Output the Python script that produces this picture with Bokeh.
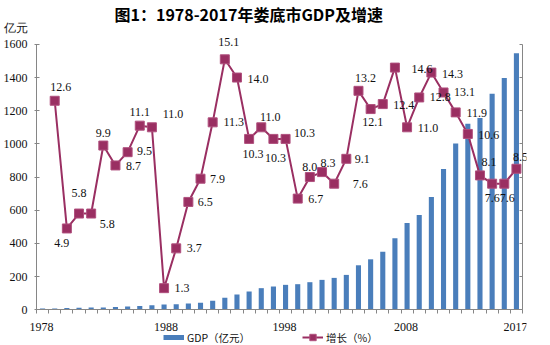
from bokeh.plotting import figure
from bokeh.models import (ColumnDataSource, Range1d, LinearAxis, FixedTicker, Legend,
                          LegendItem, LabelSet)
from bokeh.core.properties import value
from bokeh.embed import file_html
from bokeh.resources import INLINE

# ---------------- data ----------------
years = list(range(1978, 2018))
gdp = [7, 8, 11, 12, 13, 13, 17, 19, 23, 27, 32, 33, 37, 42,
       54, 72, 92, 110, 130, 140, 150, 154, 166, 180, 192, 210, 268, 304,
       349, 431, 523, 571, 679, 849, 1002, 1122, 1156, 1302, 1398, 1546]
growth_years = list(range(1979, 2018))
growth = [12.6, 4.9, 5.8, 5.8, 9.9, 8.7, 9.5, 11.1, 11.0, 1.3, 3.7, 6.5, 7.9,
          11.3, 15.1, 14.0, 10.3, 11.0, 10.3, 10.3, 6.7, 8.0, 8.3, 7.6, 9.1,
          13.2, 12.1, 12.4, 14.6, 11.0, 12.8, 14.3, 13.1, 11.9, 10.6, 8.1,
          7.6, 7.6, 8.5]
x_tick_labels = [1978, 1988, 1998, 2008, 2017]
left_ticks = [0, 200, 400, 600, 800, 1000, 1200, 1400, 1600]
right_ticks = [0, 2, 4, 6, 8, 10, 12, 14, 16]
title_text = "图1：1978-2017年娄底市GDP及增速"
left_unit = "亿元"
right_unit = "%"
legend_gdp = "GDP（亿元）"
legend_growth = "增长（%）"

# label placement (screen px, dx right, dy up) -- styling only
lab_dx = [6, -5, 0, 16, 0, 18, 17, 0, 21, 18, 18, 17, 17, 21, 4, 21, 4, 9, 2, 19,
          18, 0, 6, 26, 16, 7, 2, 21, 27, 21, 21, 21, 21, 21, 21, 9, 0, 3, 4]
lab_dy = [14, -15, 21, -10, 13, -1, 1, 14, 13, 0, 0, 0, 0, 0, 17, -1, -15, 10, -19, 6,
          0, 10, 9, 0, 0, 13, -13, -1, -1, -1, 0, -1, 0, -1, -1, 13, -14, -14, 12]
year_dx = [-1, 2, -1, -1, -1]

BLUE = "#4a7ebb"
MAROON = "#9a2f62"
AXIS = "#868686"
SERIF = "Liberation Serif"
CJK = "Noto Sans CJK SC"

W, H = 550, 345
AX_L, AX_R = 35, 522      # category axis span (px)
FL, FR = 28, 526          # frame left / right
FT, FB = 24, 345          # frame top / bottom (frame reaches the canvas bottom)
AX_TOP, AX_BOT = 42, 309  # where 1600 / 0 sit

X0, X1 = 1977.5, 2017.5
Y0, Y1 = 0, 1600
R0, R1 = 0, 16
UNIT_Y, UNIT_R = 1700, 17   # axis positions carrying the unit captions
xk = (X1 - X0) / (AX_R - AX_L)
yk = (Y1 - Y0) / (AX_BOT - AX_TOP)
rk = (R1 - R0) / (AX_BOT - AX_TOP)
x_range = Range1d(X0 - (AX_L - FL) * xk, X1 + (FR - AX_R) * xk)
y_range = Range1d(Y0 - (FB - AX_BOT) * yk, Y1 + (AX_TOP - FT) * yk)
r_range = Range1d(R0 - (FB - AX_BOT) * rk, R1 + (AX_TOP - FT) * rk)

p = figure(width=W, height=H, output_backend="svg", toolbar_location=None,
           x_range=x_range, y_range=y_range, x_axis_location="above",
           min_border_left=FL, min_border_right=W - FR,
           min_border_top=FT, min_border_bottom=0,
           title=title_text)
p.extra_y_ranges = {"right": r_range}
p.outline_line_color = None
p.xgrid.visible = False
p.ygrid.visible = False

p.title.align = "left"
p.title.offset = 113 - FL
p.title.standoff = 0
p.title.vertical_align = "middle"
p.title.text_font = CJK
p.title.text_font_size = "16px"
p.title.text_font_style = "bold"
p.title.text_color = "#000000"

# bars
bar_src = ColumnDataSource(dict(year=years, gdp=gdp))
bar_r = p.vbar(x="year", top="gdp", width=0.42, source=bar_src,
               fill_color=BLUE, line_color=None)

# growth line
line_src = ColumnDataSource(dict(year=growth_years, growth=growth,
                                 label=[f"{v:.1f}" for v in growth],
                                 dx=lab_dx, dy=lab_dy))
line_r = p.line(x="year", y="growth", source=line_src, y_range_name="right",
                line_color=MAROON, line_width=2)
mk_r = p.scatter(x="year", y="growth", source=line_src, y_range_name="right",
                 marker="square", size=9, fill_color=MAROON, line_color="#b0507e",
                 line_width=1)

labels = LabelSet(x="year", y="growth", text="label", source=line_src,
                  y_range_name="right", x_offset="dx", y_offset="dy",
                  text_font=value(SERIF), text_font_size="12px",
                  text_align="center", text_baseline="middle", text_color="#111111")
p.add_layout(labels)


def style_labels(ax):
    ax.major_label_text_font = SERIF
    ax.major_label_text_font_size = "12px"
    ax.major_label_text_color = "#111111"


def hide_labels(ax, ticks):
    ax.major_label_overrides = {t: "" for t in ticks}
    ax.major_label_text_font_size = "0px"
    ax.major_label_standoff = 0


# category axis: line + boundary ticks drawn at value 0
xaxis = p.xaxis[0]
xaxis.fixed_location = Y0
xaxis.bounds = (X0, X1)
xaxis.ticker = FixedTicker(ticks=x_tick_labels,
                           minor_ticks=[X0 + i for i in range(len(years) + 1)])
hide_labels(xaxis, x_tick_labels)
xaxis.major_tick_out = 0
xaxis.major_tick_in = 0
xaxis.minor_tick_out = 0
xaxis.minor_tick_in = 4
xaxis.axis_line_color = AXIS
xaxis.minor_tick_line_color = AXIS

# year labels under the category axis
year_src = ColumnDataSource(dict(x=x_tick_labels, y=[Y0] * len(x_tick_labels),
                                 t=[str(v) for v in x_tick_labels], dx=year_dx))
p.add_layout(LabelSet(x="x", y="y", text="t", source=year_src, y_offset=-17,
                      x_offset="dx",
                      text_font=value(SERIF), text_font_size="12px",
                      text_align="center", text_baseline="middle",
                      text_color="#111111"))

# left: labels axis (values + unit caption), no line / tick marks
yaxis = p.yaxis[0]
yaxis.bounds = (Y0, UNIT_Y)
yaxis.ticker = FixedTicker(ticks=left_ticks + [UNIT_Y])
yaxis.major_label_overrides = {UNIT_Y: left_unit}
yaxis.axis_line_color = None
yaxis.major_tick_line_color = None
yaxis.minor_tick_line_color = None
yaxis.major_tick_out = 0
yaxis.major_tick_in = 0
yaxis.minor_tick_out = 0
yaxis.minor_tick_in = 0
yaxis.major_label_standoff = 2
style_labels(yaxis)

# right: labels axis (values + unit caption)
raxis = LinearAxis(y_range_name="right",
                   ticker=FixedTicker(ticks=right_ticks + [UNIT_R]),
                   bounds=(R0, UNIT_R), fixed_location=X1)
raxis.major_label_overrides = {UNIT_R: right_unit}
raxis.axis_line_color = None
raxis.major_tick_line_color = None
raxis.minor_tick_line_color = None
raxis.major_tick_out = 0
raxis.major_tick_in = 0
raxis.minor_tick_out = 0
raxis.minor_tick_in = 0
raxis.major_label_standoff = 9
style_labels(raxis)
p.add_layout(raxis, "right")

# line/tick axis for the GDP scale, drawn at the left end of the categories
yline = LinearAxis(ticker=FixedTicker(ticks=left_ticks), bounds=(Y0, Y1),
                   fixed_location=X0)
hide_labels(yline, left_ticks)
yline.major_tick_out = 3
yline.major_tick_in = 2
yline.minor_tick_out = 0
yline.minor_tick_in = 0
yline.axis_line_color = AXIS
yline.major_tick_line_color = AXIS
p.add_layout(yline, "right")

# line/tick axis for the growth scale
rline = LinearAxis(y_range_name="right", ticker=FixedTicker(ticks=right_ticks),
                   bounds=(R0, R1), fixed_location=X1)
hide_labels(rline, right_ticks)
rline.major_tick_out = 0
rline.major_tick_in = 3
rline.minor_tick_out = 0
rline.minor_tick_in = 0
rline.axis_line_color = AXIS
rline.major_tick_line_color = AXIS
p.add_layout(rline, "right")

# series legend under the year labels (inside the frame)
swatch = p.line(x=years[:1], y=gdp[:1], line_color=BLUE, line_width=5)
legend = Legend(items=[LegendItem(label=legend_gdp, renderers=[swatch]),
                       LegendItem(label=legend_growth, renderers=[line_r, mk_r])],
                orientation="horizontal", location=(162 - FL, 0),
                glyph_width=21, glyph_height=16, label_standoff=3, spacing=52,
                padding=0, margin=0, border_line_color=None,
                background_fill_alpha=0, label_text_font=CJK,
                label_text_font_size="10.5px", label_height=16,
                label_text_color="#111111")
p.add_layout(legend, "center")

open("out.html", "w").write(file_html(p, INLINE))
